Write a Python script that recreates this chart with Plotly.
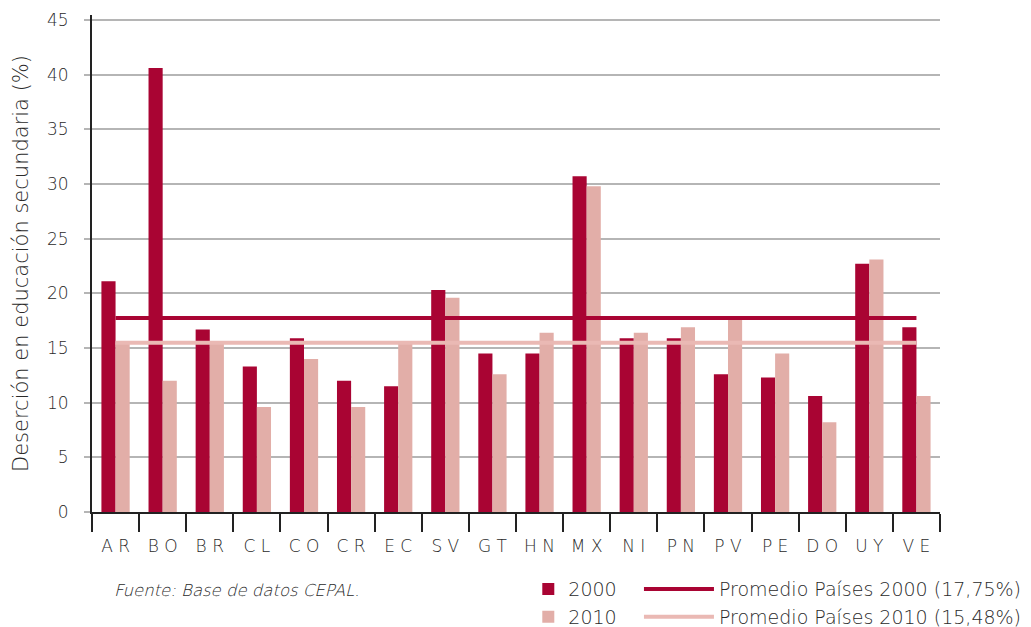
import plotly.graph_objects as go

# Países (códigos) y tasas de deserción en secundaria (%)
paises = ["AR", "BO", "BR", "CL", "CO", "CR", "EC", "SV", "GT",
          "HN", "MX", "NI", "PN", "PV", "PE", "DO", "UY", "VE"]
desercion_2000 = [21.1, 40.6, 16.7, 13.3, 15.9, 12.0, 11.5, 20.3, 14.5,
                  14.5, 30.7, 15.9, 15.9, 12.6, 12.3, 10.6, 22.7, 16.9]
desercion_2010 = [15.5, 12.0, 15.5, 9.6, 14.0, 9.6, 15.5, 19.6, 12.6,
                  16.4, 29.8, 16.4, 16.9, 17.7, 14.5, 8.2, 23.1, 10.6]
promedio_2000 = 17.75
promedio_2010 = 15.48
etiquetas_x = [" ".join(p) for p in paises]

COLOR_2000 = "#a90433"
COLOR_2010 = "#e2aea8"
COLOR_PROM_2010 = "#eab9b4"
FUENTE = "DejaVu Sans Light, DejaVu Sans"
TEXTO = "#2a2a2a"

fig = go.Figure()

fig.add_trace(go.Bar(
    x=paises, y=desercion_2000, name="2000",
    marker=dict(color=COLOR_2000, line=dict(width=0)),
    legend="legend",
))
fig.add_trace(go.Bar(
    x=paises, y=desercion_2010, name="2010",
    marker=dict(color=COLOR_2010, line=dict(width=0)),
    legend="legend",
))
fig.add_trace(go.Scatter(
    x=paises, y=[promedio_2000] * len(paises), mode="lines",
    name="Promedio Países 2000 (17,75%)",
    line=dict(color=COLOR_2000, width=4),
    legend="legend2",
))
fig.add_trace(go.Scatter(
    x=paises, y=[promedio_2010] * len(paises), mode="lines",
    name="Promedio Países 2010 (15,48%)",
    line=dict(color=COLOR_PROM_2010, width=4),
    legend="legend2",
))

fig.update_layout(
    width=1031, height=627,
    margin=dict(l=84, r=99, t=7, b=123, autoexpand=False),
    paper_bgcolor="white", plot_bgcolor="white",
    barmode="group", bargap=0.4, bargroupgap=0,
    font=dict(family=FUENTE, size=16, color=TEXTO),
    legend=dict(
        x=0.5145, y=-0.117, xanchor="left", yanchor="top",
        orientation="v", font=dict(size=19, color=TEXTO),
        tracegroupgap=0, itemwidth=30,
    ),
    legend2=dict(
        x=0.645, y=-0.117, xanchor="left", yanchor="top",
        orientation="v", font=dict(size=19, color=TEXTO),
        tracegroupgap=0, itemwidth=70,
    ),
    annotations=[dict(
        text="<i>Fuente: Base de datos CEPAL.</i>",
        xref="paper", yref="paper", x=0.0235, y=-0.157,
        xanchor="left", yanchor="middle", showarrow=False,
        font=dict(size=16.5, color=TEXTO),
    )],
)

fig.update_xaxes(
    tickmode="array", tickvals=paises, ticktext=etiquetas_x,
    tickson="boundaries", ticks="outside", ticklen=18, tickwidth=2,
    tickcolor="#222", showline=True, linecolor="#222", linewidth=2,
    showgrid=False, tickfont=dict(size=17, color=TEXTO),
    ticklabelstandoff=18, range=[-0.5, 17.5],
)
fig.update_yaxes(
    range=[0, 45.45], dtick=5, tick0=0,
    showgrid=True, gridcolor="#b5b5b5", gridwidth=2,
    ticks="outside", ticklen=6, tickcolor="#b5b5b5", tickwidth=2,
    showline=True, linecolor="#222", linewidth=2,
    zeroline=False, ticklabelstandoff=12,
    tickfont=dict(size=17, color=TEXTO),
    title=dict(text="Deserción en educación secundaria (%)",
               font=dict(size=21, color=TEXTO), standoff=13),
)

fig.write_html("out.html")
